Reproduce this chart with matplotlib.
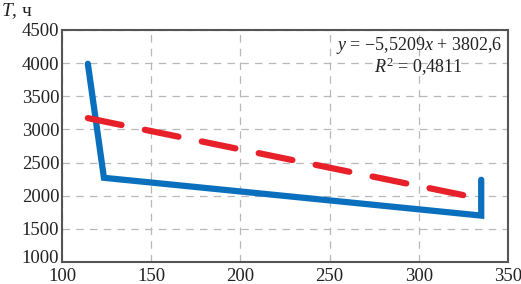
import matplotlib.pyplot as plt
import matplotlib.transforms as mtransforms
import numpy as np

# данные
x_obs = [114.5, 123.5, 335, 335]
t_obs = [3990, 2270, 1700, 2240]

slope = -5.5209
intercept = 3802.6
x_fit = [114.5, 335]

xticks = [100, 150, 200, 250, 300, 350]
yticks = [1000, 1500, 2000, 2500, 3000, 3500, 4000, 4500]

plt.rcParams['font.family'] = ['Liberation Serif', 'DejaVu Serif']
plt.rcParams['mathtext.fontset'] = 'custom'
plt.rcParams['mathtext.it'] = 'Liberation Serif:italic'
plt.rcParams['mathtext.rm'] = 'Liberation Serif'

fig = plt.figure(figsize=(5.21, 2.84), dpi=100)
ax = fig.add_axes([0.119, 0.0775, 0.856, 0.817])

ax.plot(x_obs, t_obs, color='#0a70bd', lw=4.5, solid_joinstyle='miter',
        solid_capstyle='round', zorder=3)
y_fit = [slope * v + intercept for v in x_fit]
ax.plot(x_fit, y_fit, color='#e8202a', lw=4.5, dashes=(5.5, 3.8),
        solid_capstyle='round', dash_capstyle='round', zorder=4)

ax.set_xlim(100, 350)
ax.set_ylim(1000, 4500)
ax.set_xticks(xticks)
ax.set_yticks(yticks)
ax.grid(True, color='#b8b8b8', ls=(0, (6, 5)), lw=0.9)
ax.tick_params(length=0, labelsize=13.5, colors='#222222')
ax.tick_params(axis='x', pad=4.5)
ax.tick_params(axis='y', pad=2)

# lift the lowest y label a little so it does not collide with "100"
fig.canvas.draw()
lift = mtransforms.ScaledTranslation(0, 4 / 72, fig.dpi_scale_trans)
first = ax.get_yticklabels()[0]
first.set_transform(first.get_transform() + lift)

for s in ax.spines.values():
    s.set_color('#555555')
    s.set_linewidth(1.5)

ax.text(0.8, 0.935, '$y$ = −5,5209$x$ + 3802,6', transform=ax.transAxes,
        ha='center', va='center', fontsize=13, color='#222222')
ax.text(0.8, 0.84, '$R^2$ = 0,4811', transform=ax.transAxes,
        ha='center', va='center', fontsize=13, color='#222222')

fig.text(0.002, 0.962, '$T$, ч', ha='left', va='center', fontsize=14, color='#222222')

fig.savefig('out.png', dpi=100)
